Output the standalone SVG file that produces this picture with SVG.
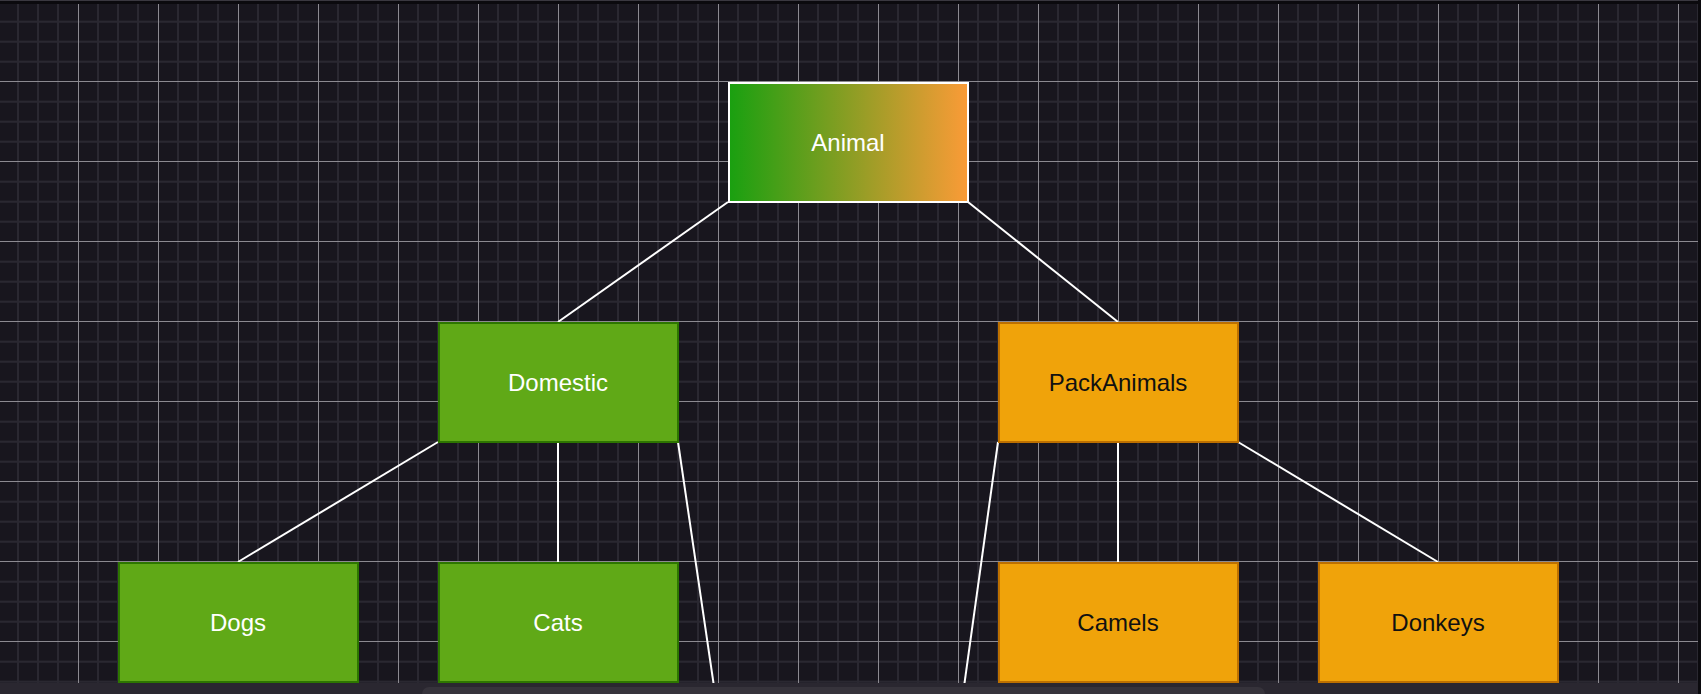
<svg xmlns="http://www.w3.org/2000/svg" width="1701" height="694" viewBox="0 0 1701 694">
  <style>
    .lbl { font-family: "Liberation Sans", Arial, sans-serif; font-size: 24px; text-anchor: middle; }
    .light { fill: #ffffff; }
    .dark { fill: #111111; }
    .green { fill: #60a917; stroke: #2d7600; stroke-width: 2; }
    .orange { fill: #f0a30a; stroke: #bd7000; stroke-width: 2; }
    .edge { stroke: #ffffff; stroke-width: 2; fill: none; }
  </style>
  <defs>
    <pattern id="grid" patternUnits="userSpaceOnUse" x="78" y="81" width="80" height="80">
      <rect width="80" height="80" fill="#18161e"/>
      <rect x="19" y="0" width="2" height="80" fill="#2a2831"/>
      <rect x="39" y="0" width="2" height="80" fill="#2a2831"/>
      <rect x="59" y="0" width="2" height="80" fill="#2a2831"/>
      <rect x="0" y="19.7" width="80" height="2" fill="#2a2831"/>
      <rect x="0" y="39.7" width="80" height="2" fill="#2a2831"/>
      <rect x="0" y="59.7" width="80" height="2" fill="#2a2831"/>
      <rect x="0" y="0" width="1" height="80" fill="#8c8a91"/>
      <rect x="0" y="0" width="80" height="1" fill="#8c8a91"/>
    </pattern>
    <linearGradient id="animalGrad" x1="0" y1="0" x2="1" y2="0">
      <stop offset="0" stop-color="#19a010"/>
      <stop offset="1" stop-color="#fb9b37"/>
    </linearGradient>
  </defs>

  <rect x="0" y="0" width="1701" height="694" fill="#18161e"/>
  <rect x="0" y="0" width="1698" height="683" fill="url(#grid)"/>
  <rect x="0" y="0" width="1701" height="1" fill="#3a3840"/>
  <rect x="0" y="1" width="1701" height="3" fill="#0b0a0e"/>
  <rect x="1698" y="0" width="3" height="694" fill="#0b0a0e"/>

  <g id="connectors">
    <line class="edge" x1="728" y1="202" x2="558" y2="322"/>
    <line class="edge" x1="968" y1="202" x2="1118" y2="322"/>
    <line class="edge" x1="438" y1="442" x2="238" y2="562"/>
    <line class="edge" x1="558" y1="442" x2="558" y2="562"/>
    <line class="edge" x1="678" y1="442" x2="731" y2="802"/>
    <line class="edge" x1="998" y1="442" x2="948" y2="802"/>
    <line class="edge" x1="1118" y1="442" x2="1118" y2="562"/>
    <line class="edge" x1="1238" y1="442" x2="1438" y2="562"/>
  </g>

  <g id="node-animal">
    <rect x="729" y="83" width="239" height="119" fill="url(#animalGrad)" stroke="#ffffff" stroke-width="2"/>
    <text class="lbl light" x="848" y="151">Animal</text>
  </g>
  <g id="node-domestic">
    <rect class="green" x="439" y="323" width="239" height="119"/>
    <text class="lbl light" x="558" y="391">Domestic</text>
  </g>
  <g id="node-packanimals">
    <rect class="orange" x="999" y="323" width="239" height="119"/>
    <text class="lbl dark" x="1118" y="391">PackAnimals</text>
  </g>
  <g id="node-dogs">
    <rect class="green" x="119" y="563" width="239" height="119"/>
    <text class="lbl light" x="238" y="631">Dogs</text>
  </g>
  <g id="node-cats">
    <rect class="green" x="439" y="563" width="239" height="119"/>
    <text class="lbl light" x="558" y="631">Cats</text>
  </g>
  <g id="node-camels">
    <rect class="orange" x="999" y="563" width="239" height="119"/>
    <text class="lbl dark" x="1118" y="631">Camels</text>
  </g>
  <g id="node-donkeys">
    <rect class="orange" x="1319" y="563" width="239" height="119"/>
    <text class="lbl dark" x="1438" y="631">Donkeys</text>
  </g>

  <rect x="0" y="683" width="1698" height="11" fill="#2a2730"/>
  <rect x="422" y="687" width="843" height="14" rx="7" fill="#36333b"/>
</svg>
